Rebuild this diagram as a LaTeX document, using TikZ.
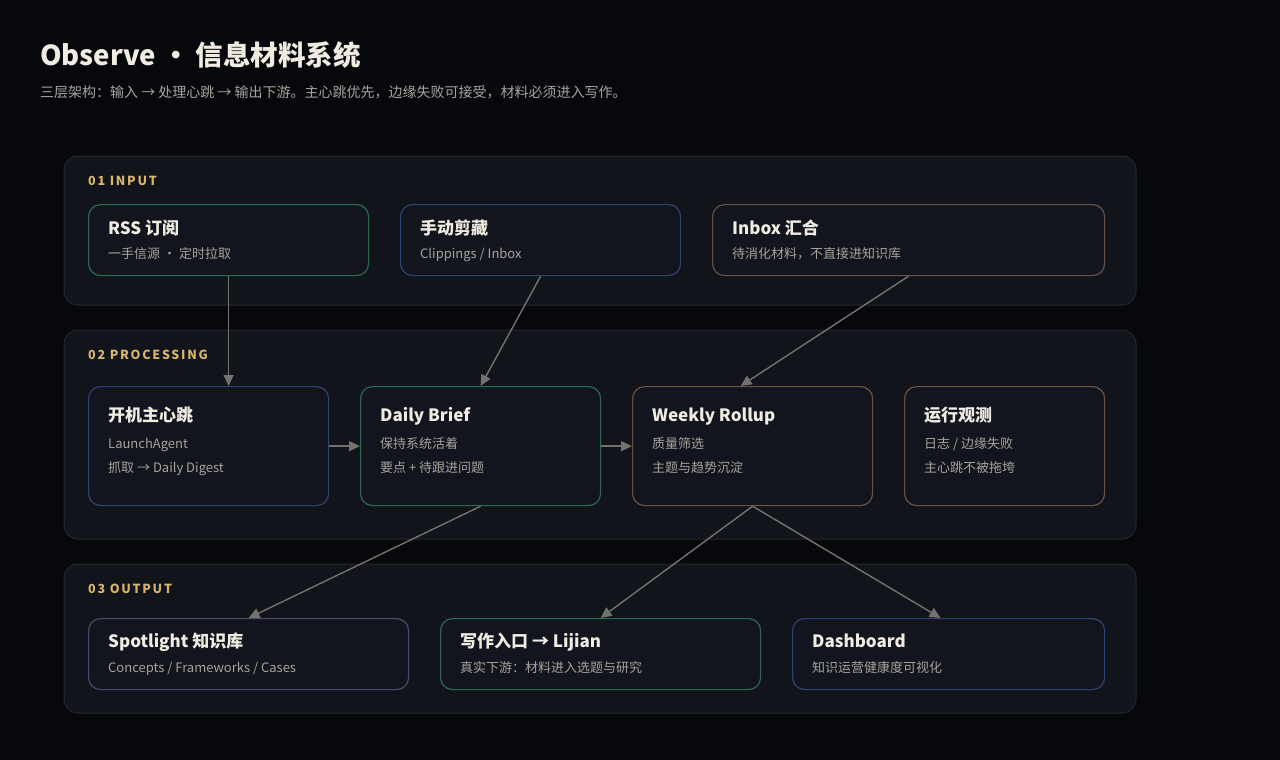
\documentclass[tikz,border=0pt]{standalone}
\usepackage{fontspec}
\setmainfont{Noto Sans CJK SC}
\usepackage{xcolor}
\usetikzlibrary{arrows.meta,positioning,calc}
\definecolor{bgcol}{HTML}{07080B}
\definecolor{panelfill}{HTML}{11141B}
\definecolor{panelline}{HTML}{23272F}
\definecolor{cardfill}{HTML}{12151D}
\definecolor{greenline}{HTML}{2A6B4F}
\definecolor{blueline}{HTML}{2F4372}
\definecolor{brownline}{HTML}{6B5141}
\definecolor{violetline}{HTML}{4B4B6B}
\definecolor{titletext}{HTML}{F0ECE2}
\definecolor{subtext}{HTML}{A6A39B}
\definecolor{goldtext}{HTML}{D9B46C}
\definecolor{arrowcol}{HTML}{74726C}

\begin{document}
\begin{tikzpicture}[
  x=1pt, y=-1pt,
  panel/.style={draw=panelline, fill=panelfill, rounded corners=14pt, line width=1pt},
  card/.style={rectangle, draw=#1, fill=cardfill, rounded corners=12pt, line width=1.2pt,
    anchor=north west, inner sep=0pt},
  ctitle/.style={anchor=base west, inner sep=0pt, text=titletext, font=\fontsize{17}{20}\selectfont\bfseries},
  csub/.style={anchor=base west, inner sep=0pt, text=subtext, font=\fontsize{13}{16}\selectfont},
  layer/.style={anchor=base west, inner sep=0pt, text=goldtext,
    font=\fontsize{12.5}{15}\selectfont\bfseries\addfontfeature{LetterSpace=14}},
  arrow/.style={-{Triangle[length=11pt,width=10pt]}, draw=arrowcol, line width=1.4pt}
]

% background and heading
\fill[bgcol] (0,0) rectangle (1280,760);
\node[anchor=base west, inner sep=0pt, text=titletext, font=\fontsize{27.5}{32}\selectfont\bfseries]
  (head) at (40,66) {Observe · 信息材料系统};
\node[csub, font=\fontsize{14}{17}\selectfont] (lead) at (40,97)
  {三层架构：输入 → 处理心跳 → 输出下游。主心跳优先，边缘失败可接受，材料必须进入写作。};

% three layers
\draw[panel] (64,156) rectangle (1136,305);
\draw[panel] (64,330) rectangle (1136,539);
\draw[panel] (64,564) rectangle (1136,713);
\node[layer] (l1) at (88,185) {01 INPUT};
\node[layer] (l2) at (88,359) {02 PROCESSING};
\node[layer] (l3) at (88,593) {03 OUTPUT};

% input cards
\node[card=greenline, minimum width=280pt, minimum height=71pt] (rss) at (88,204) {};
\node[card=blueline, minimum width=280pt, minimum height=71pt] (clip) at (400,204) {};
\node[card=brownline, minimum width=392pt, minimum height=71pt] (inbox) at (712,204) {};
\node[ctitle] at (108,234.5) {RSS 订阅};
\node[csub] at (108,258) {一手信源 · 定时拉取};
\node[ctitle] at (420,234.5) {手动剪藏};
\node[csub] at (420,258) {Clippings / Inbox};
\node[ctitle] at (732,234.5) {Inbox 汇合};
\node[csub] at (732,258) {待消化材料，不直接进知识库};

% processing cards
\node[card=blueline, minimum width=240pt, minimum height=119pt] (heart) at (88,386) {};
\node[card=greenline, minimum width=240pt, minimum height=119pt] (daily) at (360,386) {};
\node[card=brownline, minimum width=240pt, minimum height=119pt] (weekly) at (632,386) {};
\node[card=brownline, minimum width=200pt, minimum height=119pt] (monitor) at (904,386) {};
\node[ctitle] at (108,421.5) {开机主心跳};
\node[csub] at (108,448) {LaunchAgent};
\node[csub] at (108,472) {抓取 → Daily Digest};
\node[ctitle] at (380,421.5) {Daily Brief};
\node[csub] at (380,448) {保持系统活着};
\node[csub] at (380,472) {要点 + 待跟进问题};
\node[ctitle] at (652,421.5) {Weekly Rollup};
\node[csub] at (652,448) {质量筛选};
\node[csub] at (652,472) {主题与趋势沉淀};
\node[ctitle] at (924,421.5) {运行观测};
\node[csub] at (924,448) {日志 / 边缘失败};
\node[csub] at (924,472) {主心跳不被拖垮};

% output cards
\node[card=violetline, minimum width=320pt, minimum height=71pt] (spot) at (88,618) {};
\node[card=greenline, minimum width=320pt, minimum height=71pt] (write) at (440,618) {};
\node[card=blueline, minimum width=312pt, minimum height=71pt] (board) at (792,618) {};
\node[ctitle] at (108,647.5) {Spotlight 知识库};
\node[csub] at (108,672) {Concepts / Frameworks / Cases};
\node[ctitle] at (460,647.5) {写作入口 → Lijian};
\node[csub] at (460,672) {真实下游：材料进入选题与研究};
\node[ctitle] at (812,647.5) {Dashboard};
\node[csub] at (812,672) {知识运营健康度可视化};

% flows
\draw[arrow] (rss.south) -- (rss.south |- heart.north);
\draw[arrow] (clip.south) -- (daily.north);
\draw[arrow] (inbox.south) -- ($(weekly.north)+(-12,0)$);
\draw[arrow] (heart.east) -- (daily.west);
\draw[arrow] (daily.east) -- (weekly.west);
\draw[arrow] (daily.south) -- (spot.north);
\draw[arrow] (weekly.south) -- (write.north);
\draw[arrow] (weekly.south) -- ($(board.north)+(-8,0)$);

\end{tikzpicture}
\end{document}
